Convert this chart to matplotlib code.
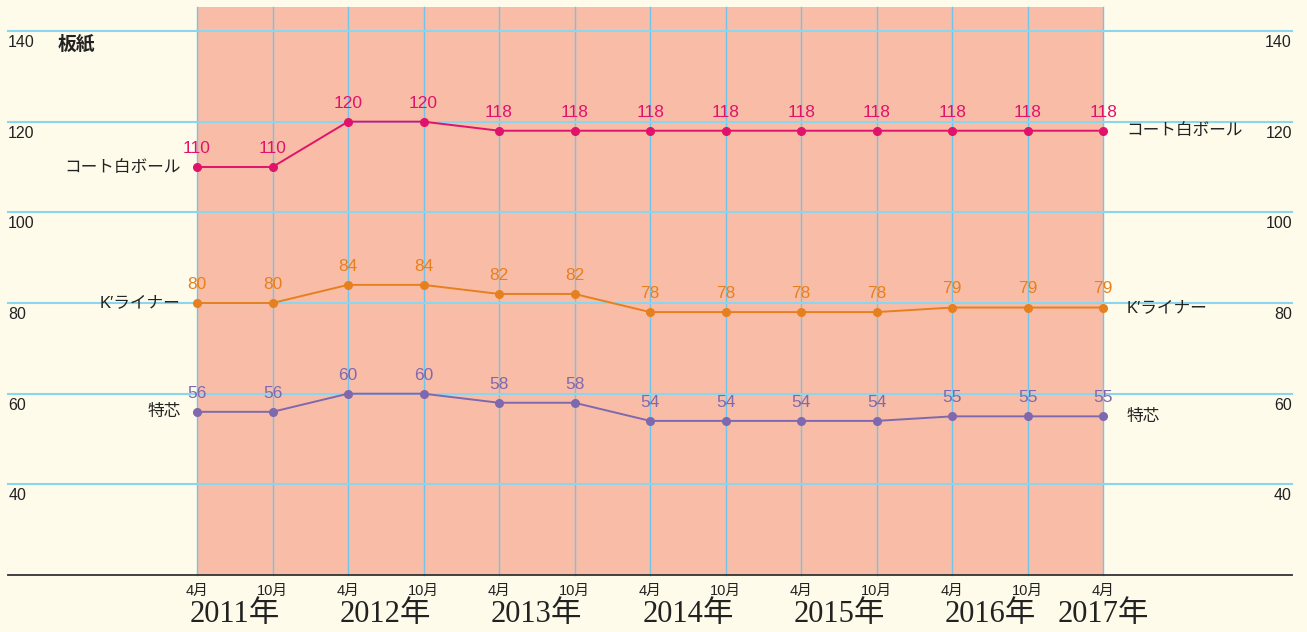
import matplotlib.pyplot as plt
import numpy as np

plt.rcParams['font.family'] = ['Liberation Sans', 'Noto Sans CJK JP', 'DejaVu Sans']

months = ["4月", "10月"] * 6 + ["4月"]
years = ["2011年", "2012年", "2013年", "2014年", "2015年", "2016年", "2017年"]
series_names = ["コート白ボール", "K′ライナー", "特芯"]
coat_white = [110, 110, 120, 120, 118, 118, 118, 118, 118, 118, 118, 118, 118]
k_liner = [80, 80, 84, 84, 82, 82, 78, 78, 78, 78, 79, 79, 79]
tokushin = [56, 56, 60, 60, 58, 58, 54, 54, 54, 54, 55, 55, 55]
yticks = [40, 60, 80, 100, 120, 140]
title = "板紙"

colors = ["#E0136B", "#E6801F", "#7E69AF"]
bg = "#FFFBEA"
fill = "#F9BDA7"
grid_blue = "#8AD6EE"
vline_blue = "#6EC6EC"

fig = plt.figure(figsize=(13.07, 6.32), dpi=100, facecolor=bg)
ax = fig.add_axes([0, 0, 1, 1])
ax.set_facecolor(bg)
ax.set_xlim(-2.609, 14.70)
ax.set_ylim(7.44, 146.83)
ax.axis("off")

x = np.arange(len(months))

# shaded period and vertical lines
ax.fill_between([x[0], x[-1]], 20, 145.2, color=fill, lw=0, zorder=0)
for xi in x:
    ax.plot([xi, xi], [20, 145.2], color=vline_blue, lw=1.0, zorder=1)

# horizontal grid with labels on both sides
for yv in yticks:
    ax.plot([-2.5, 14.5], [yv, yv], color=grid_blue, lw=1.5, zorder=1)
    ax.text(-2.5, yv - 0.9, str(yv), ha="left", va="top", fontsize=11.5, color="#222222")
    ax.text(14.5, yv - 0.9, str(yv), ha="right", va="top", fontsize=11.5, color="#222222")
ax.plot([-2.5, 14.5], [20, 20], color="#333333", lw=1.3, zorder=2)

ax.text(-1.85, 140 - 0.9, title, ha="left", va="top", fontsize=13.5, fontweight="bold", color="#222222")

for vals, name, c in zip([coat_white, k_liner, tokushin], series_names, colors):
    ax.plot(x, vals, color=c, lw=1.4, marker="o", ms=5.5, zorder=3)
    for xi, v in zip(x, vals):
        ax.annotate(str(v), (xi, v), xytext=(0, 8), textcoords="offset points",
                    ha="center", va="bottom", fontsize=12.5, color=c, zorder=4)
    ax.annotate(name, (x[0], vals[0]), xytext=(-12, 0), textcoords="offset points",
                ha="right", va="center", fontsize=12, color="#222222")
    ax.annotate(name, (x[-1], vals[-1]), xytext=(17, 0), textcoords="offset points",
                ha="left", va="center", fontsize=12, color="#222222")

for xi, m in zip(x, months):
    ax.text(xi, 16.6, m, ha="center", va="center", fontsize=10.5, color="#222222")

for i, yr in enumerate(years):
    xc = 2 * i + 0.5 if i < len(years) - 1 else 2 * i
    ax.text(xc, 11.2, yr, ha="center", va="center", fontsize=22, color="#222222",
            family=["Liberation Serif", "Noto Sans CJK JP"])

fig.savefig("out.png", dpi=100, facecolor=bg)
